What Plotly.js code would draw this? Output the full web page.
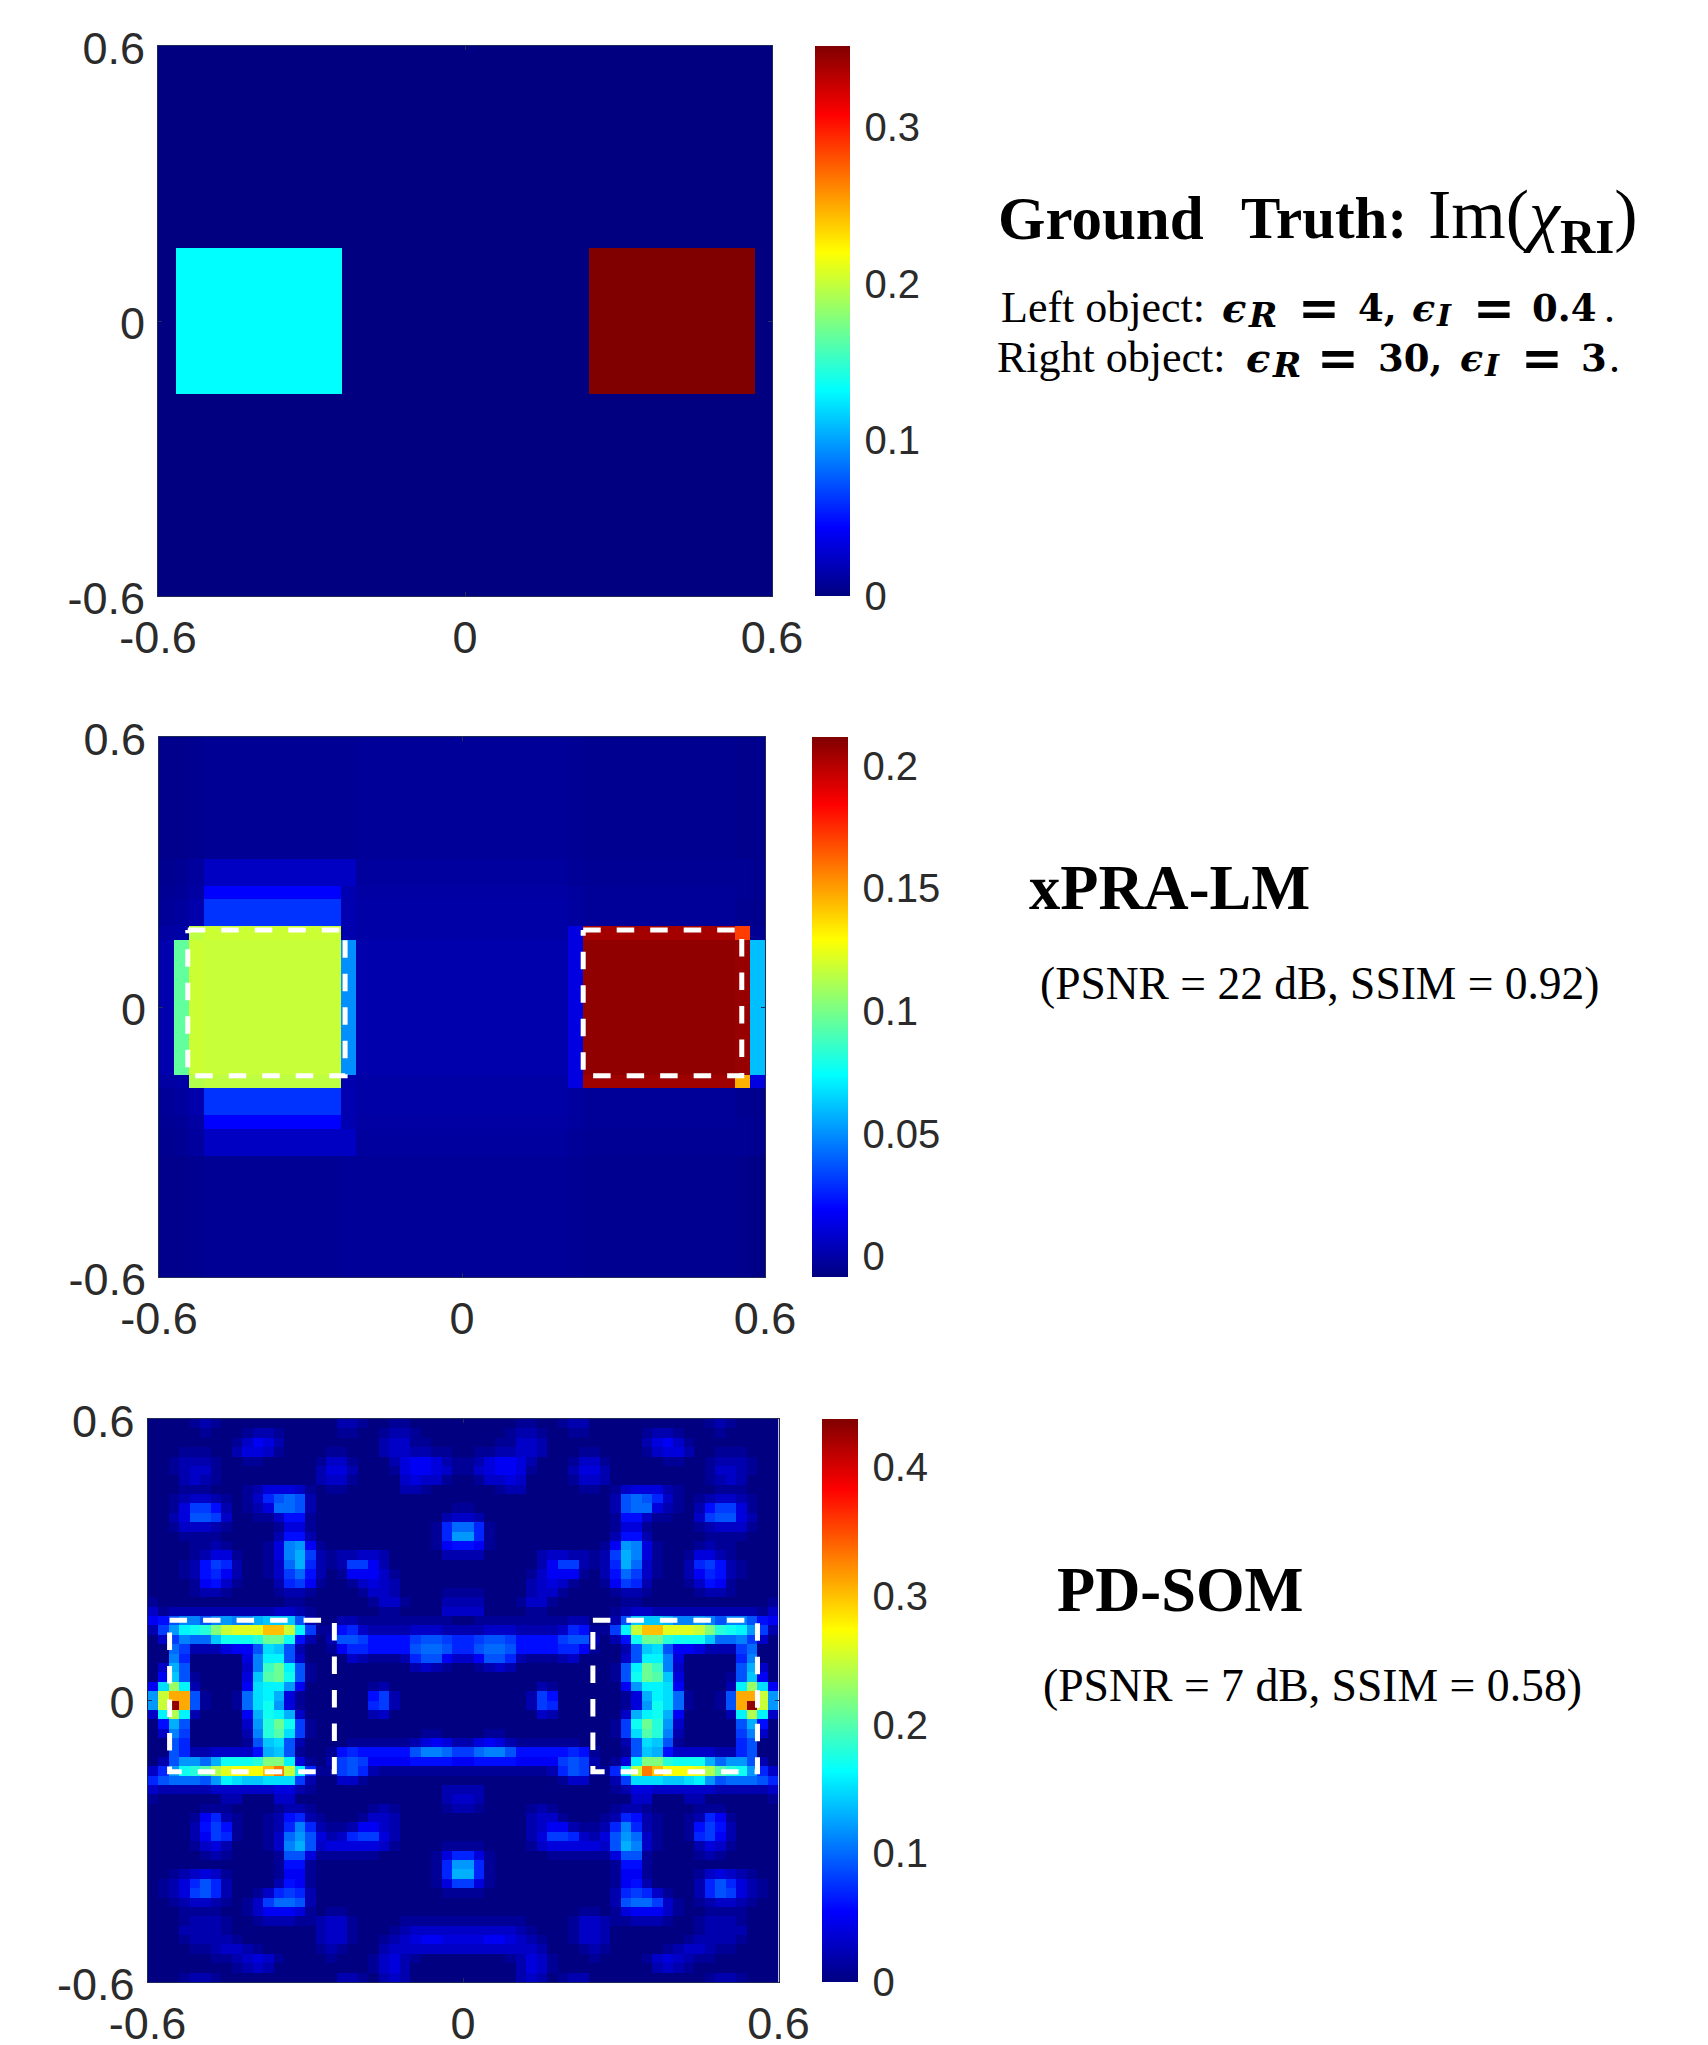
<!DOCTYPE html>
<html>
<head>
<meta charset="utf-8">
<script src="https://cdn.plot.ly/plotly-3.0.1.min.js"></script>
<style>html,body{margin:0;padding:0;background:#fff}#chart{width:1708px;height:2045px}</style>
</head>
<body>
<div id="chart"></div>
<script>
// ---------- colours and ticks
const jetScale = [[0,'#000080'],[0.125,'#0000ff'],[0.375,'#00ffff'],[0.625,'#ffff00'],[0.875,'#ff0000'],[1,'#800000']];
const axisTicks = [-0.6,0,0.6];
const axisTickText = ['-0.6','0','0.6'];

// ---------- panel 1: ground truth (brick edges and values)
const truthXEdges = [-0.6,-0.564,-0.24,0.243,0.567,0.6];
const truthYEdges = [-0.6,-0.16,0.16,0.6];
const truthValues = [
  [0,0,0,0,0],
  [0,0.132,0,0.352,0],
  [0,0,0,0,0]
];
const truthBarTicks = [0,0.1,0.2,0.3];

// ---------- panel 2: xPRA-LM (brick edges and values, top row first)
const praXEdges = [-0.6,-0.57,-0.54,-0.51,-0.24,-0.21,0.21,0.24,0.54,0.57,0.6];
const praYEdges = [0.6,0.33,0.27,0.24,0.18,0.15,-0.15,-0.18,-0.24,-0.27,-0.33,-0.6];
const praValues = [
  [-0.006,-0.006,-0.005,-0.004,-0.004,-0.003,-0.004,-0.005,-0.006,-0.006],
  [-0.005,-0.004,-0.002,0.006,0.006,-0.002,-0.003,-0.004,-0.004,-0.005],
  [-0.004,-0.003,-0.001,0.019,0.002,-0.001,-0.002,-0.003,-0.004,-0.005],
  [-0.003,-0.002,0.001,0.03,0.002,0.0,-0.002,-0.003,-0.005,-0.006],
  [-0.001,0.0,0.115,0.118,0.001,0.0,0.0125,0.204,0.171,-0.004],
  [0.001,0.095,0.118,0.117,0.05,0.001,0.0125,0.208,0.207,0.0603],
  [-0.001,0.0,0.113,0.115,0.001,0.0,0.0125,0.205,0.146,0.0125],
  [-0.003,-0.002,0.001,0.03,0.002,0.0,-0.002,-0.003,-0.005,-0.006],
  [-0.004,-0.003,-0.001,0.019,0.002,-0.001,-0.002,-0.003,-0.004,-0.005],
  [-0.005,-0.004,-0.002,0.006,0.006,-0.002,-0.003,-0.004,-0.004,-0.005],
  [-0.006,-0.006,-0.005,-0.004,-0.003,-0.003,-0.004,-0.005,-0.006,-0.007]
];
const praBarTicks = [0,0.05,0.1,0.15,0.2];
const praDashLeftX = [-0.543,-0.2315,-0.2315,-0.543,-0.543];
const praDashRightX = [0.24,0.554,0.554,0.24,0.24];
const praDashY = [0.171,0.171,-0.153,-0.153,0.171];

// ---------- panel 3: PD-SOM, left 30 columns of the 60x60 image in hundredths, top row first.
// The picture is left-right symmetric, so the right half repeats these rows.
const somLeftRows = [
[0,0,0,0,1,2,1,0,0,0,0,0,0,0,0,0,0,0,2,2,1,0,0,1,1,0,0,0,0,0],
[0,0,0,0,0,1,0,0,0,1,2,2,1,0,0,0,0,0,1,1,0,0,1,2,2,1,0,0,0,0],
[0,0,0,0,0,0,0,0,1,3,5,4,2,0,0,0,0,0,0,0,0,0,2,3,3,1,1,0,0,0],
[0,0,0,1,1,1,0,0,2,4,4,3,1,0,0,0,0,1,1,0,0,0,2,3,3,2,2,1,1,0],
[0,0,1,2,2,2,1,0,0,1,1,0,0,0,0,0,1,3,3,1,0,0,0,2,4,5,5,4,2,1],
[0,0,1,2,3,3,1,0,0,0,0,0,0,0,0,0,2,4,4,2,0,0,0,1,4,5,5,4,3,1],
[0,0,0,2,3,2,1,0,0,0,0,0,0,0,0,0,2,3,3,1,0,0,0,0,3,4,3,3,1,0],
[0,0,0,1,1,1,0,0,0,1,2,4,4,4,3,1,0,1,1,0,0,0,0,0,2,2,1,0,0,0],
[0,0,1,2,3,3,2,1,0,1,3,7,9,10,9,2,0,0,0,0,0,0,0,0,0,0,0,0,0,0],
[0,0,1,4,8,8,6,2,0,1,2,4,10,10,9,2,0,0,0,0,0,0,0,0,0,0,0,0,0,1],
[0,0,2,4,9,9,8,3,0,0,1,1,3,6,6,1,0,0,0,0,0,0,0,0,0,0,0,0,2,3],
[0,0,1,3,3,3,2,1,0,0,0,0,1,4,4,1,0,0,0,0,0,0,0,0,0,0,0,1,7,10],
[0,0,0,1,1,1,1,0,0,0,0,0,2,6,6,2,0,0,0,0,0,0,0,0,0,0,0,1,7,12],
[0,0,0,0,1,1,2,1,0,0,0,1,4,11,12,5,1,0,0,0,0,0,0,0,0,0,0,1,5,6],
[0,0,0,0,1,2,4,4,1,0,0,1,4,11,13,8,2,1,2,2,3,3,2,0,0,0,0,0,2,2],
[0,0,0,1,2,6,8,7,2,0,0,1,3,10,13,7,2,1,2,8,8,5,2,0,0,0,0,0,0,0],
[0,0,0,1,2,6,7,5,2,0,0,1,3,8,10,6,2,0,1,5,5,5,3,1,0,0,0,0,0,0],
[0,0,0,0,1,5,6,3,1,0,0,0,2,7,8,5,1,0,0,1,3,4,3,2,0,0,0,0,0,0],
[0,0,0,0,1,2,2,1,0,0,0,0,1,2,2,1,0,0,0,0,1,3,3,2,0,0,0,0,1,1],
[1,0,0,0,0,0,0,0,0,0,0,0,0,1,1,0,0,0,0,0,0,1,3,3,1,0,0,0,2,2],
[3,1,2,2,2,2,2,2,2,2,2,2,3,3,2,1,0,0,0,0,0,0,1,1,0,0,0,0,3,3],
[5,6,9,11,11,9,11,12,11,11,13,14,14,14,9,2,0,0,2,2,1,1,1,1,1,1,1,1,1,0],
[2,8,12,16,17,18,22,25,26,26,26,30,30,25,16,8,1,1,6,7,3,2,2,2,2,3,3,3,2,2],
[0,3,8,11,10,10,14,17,17,17,18,21,21,17,6,2,0,2,9,9,8,6,6,6,6,8,9,9,8,7],
[0,0,10,8,2,2,2,4,5,5,9,15,14,9,2,0,0,1,5,7,7,6,6,6,6,9,10,10,9,7],
[0,0,11,7,0,0,0,0,0,4,11,16,16,9,3,0,0,0,0,3,2,1,1,1,2,7,9,9,5,3],
[0,3,13,9,0,0,0,0,0,3,11,19,21,16,9,1,0,0,0,0,0,0,0,0,0,2,3,2,1,0],
[0,5,14,9,1,0,0,0,0,4,14,20,21,17,9,1,0,0,0,0,0,0,0,0,0,0,0,0,0,0],
[5,15,23,16,2,0,0,0,0,5,15,16,16,12,5,0,0,0,0,0,0,1,2,0,0,0,0,0,0,0],
[12,25,31,31,9,1,0,0,1,10,15,16,13,4,1,0,0,0,0,0,0,6,8,2,0,0,0,0,0,0],
[12,25,43,31,9,1,0,0,1,10,15,17,12,4,1,0,0,0,0,0,0,7,8,2,0,0,0,0,0,0],
[3,16,24,16,2,0,0,0,0,5,13,17,16,13,3,0,0,0,0,0,0,2,3,0,0,0,0,0,0,0],
[0,6,13,9,0,0,0,0,0,3,12,18,21,17,8,1,0,0,0,0,0,0,0,0,0,0,0,0,0,0],
[0,3,11,8,0,0,0,0,0,2,11,18,20,15,8,1,0,0,0,0,0,0,0,0,0,0,1,1,0,0],
[0,0,9,7,0,0,0,0,0,1,9,14,15,9,2,0,0,0,0,1,1,1,1,1,1,2,4,5,4,2],
[0,0,9,7,2,2,3,3,3,3,6,13,14,9,1,0,0,1,6,7,6,6,6,6,6,9,11,11,10,8],
[0,2,9,12,12,10,13,17,17,17,18,22,22,16,4,1,0,2,8,9,8,5,5,5,5,6,6,6,6,5],
[3,7,12,17,18,20,24,26,27,27,27,30,33,25,16,7,1,1,8,9,7,2,1,1,1,1,1,1,1,1],
[7,9,10,10,10,9,12,16,15,14,14,15,15,15,8,2,0,0,3,3,1,0,0,0,0,0,0,0,0,0],
[3,2,2,2,2,2,3,3,3,3,3,3,4,4,2,1,0,0,0,0,0,0,0,0,0,0,0,0,2,2],
[1,0,0,0,0,0,0,2,2,0,0,0,3,3,0,0,0,0,0,0,0,0,0,0,0,0,0,0,2,3],
[0,0,0,0,0,1,1,1,0,0,0,0,1,2,2,1,0,0,0,0,0,1,2,1,0,0,0,0,1,2],
[0,0,0,0,1,5,7,2,1,0,0,1,2,6,7,2,1,0,0,0,1,3,3,2,0,0,0,0,0,0],
[0,0,0,0,2,6,8,6,1,0,0,1,2,7,11,7,2,1,1,2,5,5,3,2,0,0,0,0,0,0],
[0,0,0,0,2,5,8,7,1,0,0,1,3,10,12,9,4,2,3,7,8,8,4,2,0,0,0,0,0,0],
[0,0,0,0,1,3,4,2,0,0,0,1,3,11,13,9,3,4,4,4,4,4,3,1,0,0,0,0,1,1],
[0,0,0,0,0,1,2,1,0,0,0,0,1,9,9,4,1,1,1,1,1,1,0,0,0,0,0,1,4,7],
[0,0,0,0,0,0,0,0,0,0,0,0,1,6,6,1,0,0,0,0,0,0,0,0,0,0,0,1,7,12],
[0,0,1,2,3,4,3,1,0,0,0,0,1,5,5,1,0,0,0,0,0,0,0,0,0,0,0,1,7,13],
[0,1,2,4,7,9,7,2,0,0,0,0,2,6,5,1,0,0,0,0,0,0,0,0,0,0,0,1,4,8],
[0,1,2,4,8,9,7,2,0,0,1,3,7,8,7,2,0,0,0,0,0,0,0,0,0,0,0,0,1,1],
[0,0,1,2,3,3,2,1,0,1,3,8,10,10,9,2,0,0,0,0,0,0,0,0,0,0,0,0,0,0],
[0,0,0,1,1,1,1,0,0,1,3,5,5,5,4,1,0,1,1,0,0,0,0,0,0,0,0,0,0,0],
[0,0,0,1,2,2,2,1,0,0,1,2,2,2,1,1,2,3,3,1,0,0,0,0,1,1,1,1,1,1],
[0,0,0,2,2,2,2,1,0,0,0,0,0,0,0,0,2,3,3,1,0,0,0,1,2,3,3,3,3,3],
[0,0,0,1,2,2,2,2,1,0,0,0,0,0,0,0,2,3,3,1,0,0,1,2,3,4,5,5,4,4],
[0,0,0,0,1,1,2,3,3,2,1,0,0,0,0,0,1,2,1,0,0,0,2,3,3,3,3,3,3,3],
[0,0,0,0,0,0,1,1,2,3,4,3,1,0,0,0,0,1,0,0,0,1,3,4,2,1,0,0,0,0],
[0,0,0,0,0,0,0,0,1,2,3,2,0,0,0,0,0,0,0,0,0,1,3,4,2,0,0,0,0,0],
[0,0,0,1,2,2,1,0,0,0,0,0,0,0,0,0,0,0,2,2,1,0,2,3,2,0,0,0,0,0]
];
const somBarTicks = [0,0.1,0.2,0.3,0.4];
const somDashLeftX = [-0.558,-0.2446,-0.2446,-0.558,-0.558];
const somDashRightX = [0.247,0.56,0.56,0.247,0.247];
const somDashY = [0.171,0.171,-0.152,-0.152,0.171];

// ---------- page geometry in pixels
const W = 1708, H = 2045;
const panels = [
  {l:158,r:772,t:46,b:596,barL:815,barW:35},
  {l:159,r:765,t:737,b:1277,barL:812,barW:36},
  {l:147.5,r:778.5,t:1419,b:1982,barL:822,barW:36}
];
const fy = p => 1 - p / H, fx = p => p / W;
const tickFont = {family:'"Liberation Sans",Arial,sans-serif',size:45,color:'#2b2b2b'};
const barFont = {family:'"Liberation Sans",Arial,sans-serif',size:40,color:'#2b2b2b'};

function colorbar(p, ticks, labels){
  return {x:fx(p.barL),xanchor:'left',y:fy(p.b),yanchor:'bottom',len:(p.b-p.t)/H,lenmode:'fraction',
    thickness:p.barW,thicknessmode:'pixels',xpad:0,ypad:0,outlinewidth:0,
    tickmode:'array',tickvals:ticks,ticktext:labels,tickfont:barFont,
    ticks:'outside',ticklen:7,tickcolor:'rgba(0,0,0,0)'};
}

const somZ = somLeftRows.slice().reverse().map(r => r.concat(r.slice().reverse()).map(v => v/100));

const dashLine = {color:'#ffffff',width:5,dash:'17.5px,16px'};
const traces = [
  {type:'heatmap',x:truthXEdges,y:truthYEdges,z:truthValues,xaxis:'x',yaxis:'y',colorscale:jetScale,zmin:0,zmax:0.352,
   hoverinfo:'skip',colorbar:colorbar(panels[0],truthBarTicks,['0','0.1','0.2','0.3'])},
  {type:'heatmap',x:praXEdges,y:praYEdges,z:praValues,xaxis:'x2',yaxis:'y2',colorscale:jetScale,zmin:-0.0085,zmax:0.2117,
   hoverinfo:'skip',colorbar:colorbar(panels[1],praBarTicks,['0','0.05','0.1','0.15','0.2'])},
  {type:'scatter',mode:'lines',x:praDashLeftX,y:praDashY,xaxis:'x2',yaxis:'y2',line:dashLine,showlegend:false,hoverinfo:'skip'},
  {type:'scatter',mode:'lines',x:praDashRightX,y:praDashY,xaxis:'x2',yaxis:'y2',line:dashLine,showlegend:false,hoverinfo:'skip'},
  {type:'heatmap',x0:-0.59,dx:0.02,y0:-0.59,dy:0.02,z:somZ,xaxis:'x3',yaxis:'y3',colorscale:jetScale,zmin:0,zmax:0.4376,
   hoverinfo:'skip',colorbar:colorbar(panels[2],somBarTicks,['0','0.1','0.2','0.3','0.4'])},
  {type:'scatter',mode:'lines',x:somDashLeftX,y:somDashY,xaxis:'x3',yaxis:'y3',line:dashLine,showlegend:false,hoverinfo:'skip'},
  {type:'scatter',mode:'lines',x:somDashRightX,y:somDashY,xaxis:'x3',yaxis:'y3',line:dashLine,showlegend:false,hoverinfo:'skip'}
];

function axisCommon(){
  return {range:[-0.6,0.6],tickmode:'array',tickvals:axisTicks,ticktext:axisTickText,tickfont:tickFont,
    ticks:'inside',ticklen:4,tickwidth:1,tickcolor:'#20305a',showline:true,linecolor:'#1c2a55',linewidth:1,mirror:'allticks',
    showgrid:false,zeroline:false,ticklabelstandoff:2};
}
const layout = {
  width:W,height:H,margin:{l:0,r:0,t:0,b:0,pad:0},paper_bgcolor:'#fff',plot_bgcolor:'#fff',showlegend:false
};
panels.forEach((p,i) => {
  const s = i ? String(i+1) : '';
  layout['xaxis'+s] = Object.assign(axisCommon(),{domain:[fx(p.l),fx(p.r)],anchor:'y'+s});
  layout['yaxis'+s] = Object.assign(axisCommon(),{domain:[fy(p.b),fy(p.t)],anchor:'x'+s,ticklabelstandoff:3,ticklabelshift:2});
});

const serif = '"Liberation Serif","DejaVu Serif",serif';
const mathFace = '"DejaVu Serif","Liberation Serif",serif';
function note(x,y,text,size,family){
  return {xref:'paper',yref:'paper',x:fx(x),y:fy(y),xanchor:'left',yanchor:'middle',showarrow:false,text:text,
    font:{family:family||serif,size:size,color:'#000'},align:'left',borderpad:0};
}
// equation pieces: [text, left edge in px, font size, drop below the line in px]
const leftMath = [
  ['<b><i>ϵ</i></b>',1221,40,0],['<b><i>R</i></b>',1247,34,7],['<b>=</b>',1297,50,0],['<b>4,</b>',1357,37,0],
  ['<b><i>ϵ</i></b>',1411,38,0],['<b><i>I</i></b>',1435,30,7],['<b>=</b>',1472,50,0],['<b>0.4</b>',1531,37,0]
];
const rightMath = [
  ['<b><i>ϵ</i></b>',1245,40,0],['<b><i>R</i></b>',1271,34,7],['<b>=</b>',1316,50,0],['<b>30,</b>',1377,37,0],
  ['<b><i>ϵ</i></b>',1459,38,0],['<b><i>I</i></b>',1483,30,7],['<b>=</b>',1520,50,0],['<b>3</b>',1580,37,0]
];
layout.annotations = [
  note(997,218,'<b>Ground</b>',61),
  note(1240,218,'<b>Truth:</b>',59),
  note(1427,220,'Im(<i>χ</i><sub><b>RI</b></sub>)',70),
  note(1000,308,'Left object:',44),
  note(1603,308,'.',44),
  note(996,358,'Right object:',44),
  note(1608,358,'.',44),
  note(1028,888,'<b>xPRA-LM</b>',62.5),
  note(1039,983,'(PSNR = 22 dB, SSIM = 0.92)',45.5),
  note(1056,1590,'<b>PD-SOM</b>',62.5),
  note(1042,1685,'(PSNR = 7 dB, SSIM = 0.58)',45.7)
].concat(leftMath.map(m => note(m[1],308+m[3],m[0],m[2],mathFace)))
 .concat(rightMath.map(m => note(m[1],358+m[3],m[0],m[2],mathFace)));

Plotly.newPlot('chart',traces,layout,{staticPlot:true,displayModeBar:false});
</script>
</body>
</html>
